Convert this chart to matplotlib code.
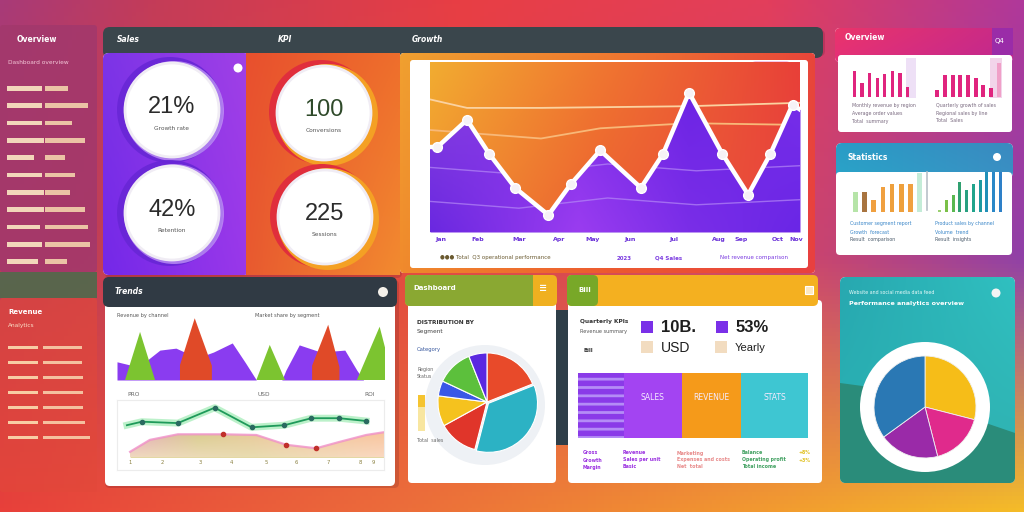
import numpy as np
import matplotlib
matplotlib.use("Agg")
import matplotlib.pyplot as plt
from matplotlib.patches import FancyBboxPatch, Circle, Rectangle, Polygon
from matplotlib.colors import to_rgb

W, H = 1024, 512

# ---------------- data ----------------
kpi_values = ["21%", "100", "42%", "225"]
kpi_labels = ["Growth rate", "Conversions", "Retention", "Sessions"]

trend_x = [0, 1, 5, 8, 11.5, 16, 19, 23, 28.5, 31.5, 35, 39.5, 43, 46, 49, 50]
trend_y = [50, 50, 66, 46, 26, 10, 28, 48, 26, 46, 82, 46, 22, 46, 75, 72]
target_a_x = [0, 5, 15, 35, 50]
target_a_y = [78, 73, 73, 74, 76]
target_b_x = [0, 15, 23, 35, 50]
target_b_y = [60, 55, 61, 64, 63]
trend_months = ["Jan", "Feb", "Mar", "Apr", "May", "Jun", "Jul", "Aug", "Sep", "Oct", "Nov"]
trend_month_x = [1.5, 6.5, 12, 17.5, 22, 27, 33, 39, 42, 47, 49.5]

pink_left = [27, 14, 25, 20, 24, 27, 25, 10]
pink_right = [7, 23, 23, 23, 23, 20, 12, 9, 35]
stat_left = [20, 20, 12, 25, 28, 28, 28, 39]
stat_right = [2, 12, 17, 30, 22, 28, 32, 40, 40, 40]

side_top_a = [35, 35, 35, 37, 27, 35, 37, 37, 33, 35, 31]
side_top_b = [23, 43, 27, 40, 20, 30, 25, 40, 43, 45, 22]
side_bot_a = [30, 30, 30, 30, 30, 30, 30]
side_bot_b = [39, 39, 40, 40, 40, 42, 47]

peak_purple1 = ([0, 8, 16, 22, 30, 36, 43, 48, 52], [28, 20, 46, 49, 34, 43, 57, 26, 0])
peak_purple2 = ([61.5, 63, 68, 76, 85, 89.5, 92], [0, 15, 54, 43, 46, 15, 0])
peak_green = [([3, 8.6, 14.2], [0, 74, 0]), ([52, 57, 62.7], [0, 54, 0]), ([89.5, 98, 100], [0, 82, 50])]
peak_red = [([23.5, 29, 35.4], [23, 95, 22]), ([72.8, 78.8, 83], [22, 85, 20])]

line_green_x = [3.7, 9.3, 22.8, 36.6, 50.4, 62.7, 72.8, 83.2, 93.3]
line_green_y = [64, 69, 67, 89, 61, 64, 74, 74, 70]
band_x = [4.9, 12.3, 22.8, 39.6, 52.2, 63.4, 74.6, 83.2, 93.3, 100]
band_y = [26, 43, 51, 51, 50, 36, 31, 40, 50, 54]

pie_mid_values = [19, 35, 13, 10, 5, 12, 6]
pie_mid_colors = ["#e84a2a", "#2cb2c4", "#e0352a", "#f5c21e", "#3a58e6", "#5cc03c", "#5a28e0"]

stack_values = [20, 25, 26, 29]
stack_labels = ["", "SALES", "REVENUE", "STATS"]
stack_colors = ["#8a3ae8", "#a344f2", "#f59a1a", "#3ec6d2"]

pie_right_values = [29, 17, 19, 35]
pie_right_colors = ["#f6bd18", "#e02a8c", "#9a2aa8", "#2a78b4"]

# ---------------- helpers ----------------
def row(stops, n):
    xs = np.linspace(0, 1, n)
    pos = [p for p, _ in stops]
    cols = np.array([to_rgb(c) for _, c in stops])
    return np.stack([np.interp(xs, pos, cols[:, k]) for k in range(3)], axis=-1)


def grid(rows, h=128, w=256):
    R = np.array([row(s, w) for _, s in rows])
    ys = np.linspace(0, 1, h)
    yp = [p for p, _ in rows]
    out = np.empty((h, w, 3))
    for k in range(3):
        for j in range(w):
            out[:, j, k] = np.interp(ys, yp, R[:, j, k])
    return out


fig = plt.figure(figsize=(W / 100, H / 100), dpi=100)
bg = fig.add_axes([0, 0, 1, 1])
bg.set_axis_off()

bg_img = grid([
    (0.0, [(0, "#a83a78"), (0.15, "#c43c58"), (0.45, "#e83e44"), (0.75, "#e23e5c"), (1, "#b0389a")]),
    (0.5, [(0, "#b83c5a"), (0.4, "#e24a40"), (0.8, "#c84470"), (1, "#9040a8")]),
    (1.0, [(0, "#e8403a"), (0.4, "#ec6e3a"), (0.75, "#f29a30"), (1, "#f5bc28")]),
])
bg.imshow(bg_img, extent=(0, W, H, 0), aspect="auto", zorder=0)


def card(x0, y0, x1, y1, color="white", r=5, z=2, alpha=1.0, grad=None):
    p = FancyBboxPatch((x0, y0), x1 - x0, y1 - y0,
                       boxstyle=f"round,pad=0,rounding_size={r}",
                       fc=color, ec="none", zorder=z, alpha=alpha)
    bg.add_patch(p)
    if grad is not None:
        im = bg.imshow(grad, extent=(x0, x1, y1, y0), aspect="auto", zorder=z)
        im.set_clip_path(p)
    return p


def shadow(x0, y0, x1, y1, r=5):
    bg.add_patch(FancyBboxPatch((x0 + 2, y0 + 3), x1 - x0, y1 - y0,
                                boxstyle=f"round,pad=0,rounding_size={r}",
                                fc="#501020", ec="none", alpha=0.18, zorder=1.5))


def sub(x0, y0, x1, y1):
    ax = fig.add_axes([x0 / W, 1 - y1 / H, (x1 - x0) / W, (y1 - y0) / H])
    ax.set_axis_off()
    ax.patch.set_alpha(0)
    return ax


def txt(x, y, s, size=5, color="white", **kw):
    bg.text(x, y, s, fontsize=size, color=color, va="center", zorder=10, **kw)

# ---------------- left sidebar ----------------
card(0, 25, 97, 272, color="#a2386c", r=3, alpha=0.85)
card(0, 272, 97, 298, color="#4e6a4c", r=0, alpha=0.9)
card(0, 298, 97, 492, color="#e2483a", r=3, alpha=0.6)
txt(17, 40, "Overview", 5.5, weight="bold")
txt(8, 62, "Dashboard overview", 4.2, "#f4c8d8")
txt(8, 312, "Revenue", 5, weight="bold")
txt(8, 325, "Analytics", 4.2, "#fbe0c8")

ax_side1 = sub(5, 78, 95, 272)
ys1 = np.arange(len(side_top_a))
ax_side1.barh(ys1, side_top_a, left=2, height=0.28, color="#fbe8c4", alpha=0.9)
ax_side1.barh(ys1, side_top_b, left=40, height=0.28, color="#f8dcb0", alpha=0.85)
ax_side1.set_xlim(0, 90)
ax_side1.set_ylim(len(side_top_a) - 0.4, -0.6)

ax_side2 = sub(5, 340, 95, 445)
ys2 = np.arange(len(side_bot_a))
ax_side2.barh(ys2, side_bot_a, left=3, height=0.22, color="#fde6b8", alpha=0.85)
ax_side2.barh(ys2, side_bot_b, left=38, height=0.22, color="#fbe0b8", alpha=0.8)
ax_side2.set_xlim(0, 90)
ax_side2.set_ylim(len(side_bot_a) - 0.5, -0.5)

# ---------------- top dark header ----------------
shadow(103, 27, 823, 53)
card(103, 27, 823, 58, color="#3a464c", r=7, z=2)
txt(117, 40, "Sales", 5.5, style="italic", weight="bold")
txt(278, 40, "KPI", 5.5, style="italic", weight="bold")
txt(412, 40, "Growth", 5.5, style="italic", weight="bold")

# ---------------- KPI panel ----------------
purple_grad = grid([(0, [(0, "#7c34e6"), (1, "#a040e6")]), (1, [(0, "#7428e8"), (1, "#9a38ea")])], 64, 64)
orange_grad = grid([(0, [(0, "#e8502e"), (1, "#ee6e2c")]), (1, [(0, "#e85a30"), (1, "#f28a30")])], 64, 64)
shadow(103, 53, 400, 275)
card(103, 53, 250, 275, r=6, z=3, grad=purple_grad)
bg.add_patch(Rectangle((246, 53), 154, 222, fc="#ec6a2e", ec="none", zorder=3))
im = bg.imshow(orange_grad, extent=(246, 400, 275, 53), aspect="auto", zorder=3)
bg.add_patch(Circle((238, 68), 4.5, fc="white", ec="none", zorder=5))

kpi_centers = [(172, 110), (324, 113), (172, 213), (325, 217)]
for i, ((cx, cy), val, lab) in enumerate(zip(kpi_centers, kpi_values, kpi_labels)):
    if i % 2 == 0:
        bg.add_patch(Circle((cx - 2, cy), 53, fc="#6826d6", ec="none", alpha=0.9, zorder=4))
        bg.add_patch(Circle((cx + 2, cy + 1), 50, fc="#c8a0f8", ec="none", alpha=0.7, zorder=4))
    else:
        bg.add_patch(Circle((cx - 3, cy - 1), 52, fc="#e02e3c", ec="none", zorder=4))
        bg.add_patch(Circle((cx + 3, cy + 2), 51, fc="#f4a024", ec="none", zorder=4))
    bg.add_patch(Circle((cx, cy), 47, fc="white", ec="none", zorder=5))
    bg.add_patch(Circle((cx, cy), 47, fc="none", ec="#f0ecf4", lw=2, zorder=5))
    col = "#2b2b2b" if i != 1 else "#2f4a2a"
    bg.text(cx, cy - 3, val, fontsize=17, color=col, ha="center", va="center",
            family="Liberation Sans", zorder=10)
    bg.text(cx, cy + 18, lab, fontsize=4.2, color="#555555", ha="center", va="center", zorder=10)

# ---------------- top-middle trend chart ----------------
chart_grad = grid([(0, [(0, "#f0a030"), (0.5, "#f07a30"), (1, "#e8463a")]),
                   (1, [(0, "#f08a2c"), (0.5, "#ec5a30"), (1, "#e84040")])], 64, 128)
card(400, 53, 815, 273, r=4, z=2, grad=chart_grad)
card(410, 60, 808, 268, color="white", r=3, z=3)
bg.add_patch(FancyBboxPatch((752, 61), 38, 8, boxstyle="round,pad=0,rounding_size=4",
                            fc="#f4c8ea", ec="none", zorder=4))

ax_t = sub(430, 62, 800, 232)
ax_t.set_xlim(0, 50)
ax_t.set_ylim(0, 100)
inner_grad = grid([(0, [(0, "#f2ac30"), (0.45, "#f07830"), (1, "#e84038")]),
                   (1, [(0, "#f09030"), (0.45, "#ec6030"), (1, "#e84440")])], 64, 128)
ax_t.imshow(inner_grad, extent=(0, 50, 0, 100), aspect="auto", zorder=0)
ax_t.plot(target_a_x, target_a_y, color="#fbd2a0", lw=1.3, zorder=1)
ax_t.plot(target_b_x, target_b_y, color="#f8b878", lw=1.3, zorder=1)
area = ax_t.fill_between(trend_x, trend_y, 0, color="#7a2ee6", zorder=2, lw=0)
area_grad = grid([(0, [(0, "#8c44e0"), (0.4, "#7a2ee8"), (0.7, "#6a22e4"), (1, "#7a30ea")]),
                  (1, [(0, "#6a28e0"), (0.4, "#9a3cf0"), (0.7, "#7a2ee8"), (1, "#6a26e6")])], 64, 128)
ima = ax_t.imshow(area_grad, extent=(0, 50, 0, 100), aspect="auto", zorder=2)
ima.set_clip_path(area.get_paths()[0], transform=ax_t.transData)
for yy in (38, 18):
    ln, = ax_t.plot([0, 12, 24, 36, 50], [yy, yy - 4, yy + 2, yy - 2, yy + 1],
                    color="#b488f6", lw=1.0, alpha=0.7, zorder=3)
    ln.set_clip_path(area.get_paths()[0], transform=ax_t.transData)
ax_t.plot(trend_x, trend_y, color="white", lw=3.2, zorder=4, solid_joinstyle="round")
ax_t.plot(trend_x[1:-1], trend_y[1:-1], "o", ms=7, mfc="#f6f2f6", mec="white", zorder=5)
ax_t.set_ylim(0, 100)
ax_t.set_xlim(0, 50)

ax_tl = sub(430, 232, 800, 246)
ax_tl.set_xlim(0, 50)
ax_tl.set_ylim(0, 1)
for mx, m in zip(trend_month_x, trend_months):
    ax_tl.text(mx, 0.45, m, fontsize=4.5, color="#6a30d8", ha="center", va="center", weight="bold")
txt(440, 258, "●●● Total  Q3 operational performance", 4, "#6a5a30")
txt(617, 258, "2023", 4, "#7a3ae0", weight="bold")
txt(655, 258, "Q4 Sales", 4, "#7a3ae0", weight="bold")
txt(720, 258, "Net revenue comparison", 4, "#7a3ae0")

# ---------------- top-right pink panel ----------------
pink_grad = grid([(0, [(0, "#ea346a"), (1, "#c82a88")]), (1, [(0, "#e43078"), (1, "#c02890")])], 32, 64)
card(835, 28, 1013, 62, r=5, z=2, grad=pink_grad)
bg.add_patch(Rectangle((992, 28), 21, 27, fc="#9a2ca8", ec="none", zorder=3))
txt(995, 41, "Q4", 5, "white")
txt(845, 37, "Overview", 5.5, weight="bold")
card(838, 55, 1012, 132, color="white", r=3, z=3)
bg.add_patch(Rectangle((906, 58), 10, 40, fc="#eee0f6", ec="none", zorder=3.5))
bg.add_patch(Rectangle((990, 58), 12, 40, fc="#f2d4ea", ec="none", zorder=3.5))
ax_p1 = sub(850, 62, 912, 97)
ax_p1.bar(range(len(pink_left)), pink_left, width=0.45, color="#e0247e")
ax_p1.set_ylim(0, 36)
ax_p2 = sub(932, 62, 1004, 97)
cols_p2 = ["#e0247e"] * (len(pink_right) - 1) + ["#f0a0c8"]
ax_p2.bar(range(len(pink_right)), pink_right, width=0.5, color=cols_p2)
ax_p2.set_ylim(0, 36)
for k, s in enumerate(["Monthly revenue by region", "Average order values", "Total  summary"]):
    txt(852, 105 + k * 8, s, 3.4, "#7a6a80")
for k, s in enumerate(["Quarterly growth of sales", "Regional sales by line", "Total  Sales"]):
    txt(936, 105 + k * 8, s, 3.4, "#7a6a80")

# ---------------- mid-right statistics panel ----------------
blue_grad = grid([(0, [(0, "#2a9cc6"), (1, "#3a8ac0")]), (1, [(0, "#2aa4c8"), (1, "#3a90c4")])], 32, 64)
card(836, 143, 1013, 178, r=6, z=2, grad=blue_grad)
txt(848, 157, "Statistics", 5.5, weight="bold")
bg.add_patch(Circle((997, 157), 4, fc="white", ec="none", zorder=4))
card(836, 172, 1012, 255, color="white", r=4, z=3)
ax_s1 = sub(850, 170, 925, 212)
cols_s1 = ["#b6e4a8", "#a87440", "#f0a040", "#f0a040", "#eea03c", "#eea03c", "#f0a040", "#c4ecd8"]
ax_s1.bar(range(len(stat_left)), stat_left, width=0.55, color=cols_s1)
ax_s1.set_ylim(0, 42)
ax_s2 = sub(935, 170, 1005, 212)
cols_s2 = ["#9ad070", "#7ac048", "#5ab850", "#30a070", "#28a080", "#20a48c", "#1e9aa0", "#2090b8", "#2a88c8", "#2e80c8"]
ax_s2.bar(range(len(stat_right)), stat_right, width=0.45, color=cols_s2)
ax_s2.set_ylim(0, 42)
bg.plot([927, 927], [172, 210], color="#b8c0c8", lw=1.2, zorder=4)
for k, s in enumerate(["Customer segment report", "Growth  forecast", "Result  comparison"]):
    txt(850, 224 + k * 8, s, 3.4, "#3a86c8" if k < 2 else "#4a5a6a")
for k, s in enumerate(["Product sales by channel", "Volume  trend", "Result  insights"]):
    txt(935, 224 + k * 8, s, 3.4, "#3a86c8" if k < 2 else "#4a5a6a")

# ---------------- bottom-right teal pie panel ----------------
teal_grad = grid([(0, [(0, "#28a8b0"), (1, "#30c0c0")]), (1, [(0, "#2ab4b4"), (1, "#30b0b0")])], 64, 64)
tp = card(840, 277, 1015, 483, r=6, z=2, grad=teal_grad)
wave = Polygon([(840, 383), (870, 387), (900, 396), (940, 408), (977, 420), (1015, 433),
                (1015, 483), (840, 483)], closed=True, fc="#2a8c7a", ec="none", zorder=2.5)
bg.add_patch(wave)
wave.set_clip_path(tp)
txt(849, 292, "Website and social media data feed", 3.4, "#e8fbfa")
txt(849, 303, "Performance analytics overview", 4.6, "white", weight="bold")
bg.add_patch(Circle((996, 293), 4.5, fc="#f4f4f4", ec="none", zorder=4))
bg.add_patch(Circle((925, 407), 65, fc="white", ec="none", zorder=3))
ax_pr = sub(873, 355, 977, 459)
ax_pr.pie(pie_right_values, colors=pie_right_colors, startangle=90, counterclock=False,
          radius=1, wedgeprops=dict(lw=0.6, ec="#f0f0f0"))
ax_pr.set_xlim(-1.02, 1.02)
ax_pr.set_ylim(-1.02, 1.02)

# ---------------- bottom-left trends panel ----------------
shadow(103, 277, 397, 485)
card(105, 300, 395, 486, color="white", r=5, z=2)
card(103, 277, 397, 307, color="#303a44", r=6, z=3)
txt(115, 292, "Trends", 5.5, weight="bold", style="italic")
bg.add_patch(Circle((383, 292), 5, fc="#f4f0ea", ec="none", zorder=4))
txt(117, 315, "Revenue by channel", 3.6, "#555555")
txt(255, 315, "Market share by segment", 3.6, "#555555")
ax_a = sub(117, 315, 385, 380)
ax_a.set_xlim(0, 100)
ax_a.set_ylim(0, 100)
ax_a.fill_between(peak_purple1[0], peak_purple1[1], 0, color="#8a3cf0", lw=0)
ax_a.fill_between(peak_purple2[0], peak_purple2[1], 0, color="#8a3cf0", lw=0)
for xs, ys in peak_red:
    ax_a.fill(xs + [xs[-1], xs[0]], ys + [0, 0], color="#e04a28", lw=0, zorder=2)
for xs, ys in peak_green:
    ax_a.fill(xs + [xs[-1], xs[0]], ys + [0, 0], color="#7cc430", lw=0, zorder=3)
ax_a.set_xlim(0, 100)
ax_a.set_ylim(0, 100)
txt(127, 394, "PRO", 4.2, "#666666")
txt(258, 394, "USD", 4.2, "#666666")
txt(364, 394, "ROI", 4.2, "#666666")

ax_l = sub(117, 400, 384, 470)
ax_l.set_axis_on()
ax_l.set_xticks([])
ax_l.set_yticks([])
for sp in ax_l.spines.values():
    sp.set_color("#ececec")
ax_l.set_xlim(0, 100)
ax_l.set_ylim(0, 100)
band = ax_l.fill_between(band_x, band_y, 18, color="#e0d49a", lw=0, zorder=1)
band_grad = grid([(0, [(0, "#e8a0c8"), (0.3, "#d8cc8c"), (0.6, "#f0c8a0"), (1, "#f8c49c")]),
                  (1, [(0, "#f0d8c0"), (0.5, "#e8dcb0"), (1, "#fad8c0")])], 32, 64)
imb = ax_l.imshow(band_grad, extent=(0, 100, 18, 55), aspect="auto", zorder=1)
imb.set_clip_path(band.get_paths()[0], transform=ax_l.transData)
ax_l.plot(band_x, band_y, color="#f090c8", lw=1.6, alpha=0.8, zorder=2)
ax_l.plot([band_x[3], band_x[5], band_x[6]], [band_y[3], band_y[5], band_y[6]], "o",
          ms=3, color="#c0302a", zorder=3)
ax_l.plot(line_green_x, line_green_y, color="#90e8a8", lw=5, alpha=0.6, zorder=3)
ax_l.plot(line_green_x, line_green_y, color="#1e9a5a", lw=1.3, zorder=4)
ax_l.plot(line_green_x[1:], line_green_y[1:], "o", ms=3, color="#2a6a60", zorder=5)
ax_l.set_xlim(0, 100)
ax_l.set_ylim(0, 100)
for k, lx in enumerate([5, 17, 31, 43, 56, 67, 79, 91, 96]):
    ax_l.text(lx, 10, str(k + 1), fontsize=3.8, color="#8a8040", ha="center", va="center")

# ---------------- bottom-middle pie panel ----------------
card(408, 300, 556, 483, color="white", r=4, z=2)
card(405, 275, 557, 306, color="#f0b020", r=5, z=3)
card(405, 275, 533, 306, color="#8aa832", r=5, z=3)
bg.add_patch(Rectangle((525, 275), 8, 31, fc="#8aa832", ec="none", zorder=3))
txt(413, 288, "Dashboard", 5, weight="bold")
txt(539, 288, "≡", 7, "white", weight="bold")
bg.add_patch(Rectangle((556, 310), 12, 135, fc="#2e3e48", ec="none", zorder=2))
txt(417, 323, "DISTRIBUTION BY", 4.2, "#333333", weight="bold")
txt(417, 332, "Segment", 4.2, "#444444")
txt(417, 349, "Category", 3.8, "#3a5aa0")
txt(417, 370, "Region", 3.4, "#666666")
txt(417, 377, "Status", 3.4, "#666666")
bg.add_patch(Rectangle((418, 395), 7, 36, fc="#f8e6a0", ec="none", zorder=3))
bg.add_patch(Rectangle((418, 395), 7, 12, fc="#f5c430", ec="none", zorder=3))
txt(417, 440, "Total  sales", 3.4, "#666666")
bg.add_patch(Circle((485, 405), 60, fc="#eef1f5", ec="none", zorder=2.5))
ax_pm = sub(435, 350, 539, 454)
ax_pm.pie(pie_mid_values, colors=pie_mid_colors, startangle=90, counterclock=False,
          radius=1, explode=[0, 0.04, 0, 0, 0, 0, 0], wedgeprops=dict(lw=0.8, ec="white"))
ax_pm.set_xlim(-1.06, 1.06)
ax_pm.set_ylim(-1.06, 1.06)

# ---------------- bottom-right stacked bar panel ----------------
card(568, 300, 822, 483, color="white", r=4, z=2)
card(567, 275, 818, 306, color="#f4b020", r=5, z=3)
card(567, 275, 598, 306, color="#78a828", r=5, z=3)
txt(578, 290, "Bill", 5, weight="bold")
bg.add_patch(Rectangle((805, 286), 8, 8, fc="#fde8c0", ec="white", lw=0.8, zorder=4))
txt(580, 322, "Quarterly KPIs", 4.2, "#333333", weight="bold")
txt(580, 332, "Revenue summary", 3.6, "#555555")
txt(583, 350, "Bill", 3.8, "#333333", weight="bold")
bg.add_patch(Rectangle((641, 321), 12, 12, fc="#7a30e8", ec="none", zorder=4))
bg.add_patch(Rectangle((716, 321), 12, 12, fc="#7a30e8", ec="none", zorder=4))
bg.add_patch(Rectangle((641, 341), 12, 12, fc="#f2dcc0", ec="none", zorder=4))
bg.add_patch(Rectangle((715, 341), 12, 12, fc="#f2dcc0", ec="none", zorder=4))
txt(661, 327, "10B.", 12, "#1e1e1e", weight="bold", family="Liberation Sans")
txt(736, 327, "53%", 12, "#1e1e1e", weight="bold", family="Liberation Sans")
txt(661, 348, "USD", 10, "#1e1e1e", family="Liberation Sans")
txt(735, 348, "Yearly", 8, "#1e1e1e", family="Liberation Sans")

plt.rcParams["hatch.linewidth"] = 2.0
ax_st = sub(578, 373, 808, 438)
left = 0
for v, lab, c, k in zip(stack_values, stack_labels, stack_colors, range(4)):
    ax_st.barh(0.5, v, left=left, height=1.0, color=c, lw=0,
               hatch="--" if k == 0 else None, edgecolor="#b48cf6" if k == 0 else c)
    if lab:
        ax_st.text(left + v / 2, 0.62, lab, fontsize=5.5, color="#f4eaff", ha="center", va="center")
    left += v
ax_st.set_xlim(0, sum(stack_values))
ax_st.set_ylim(0, 1)

legend_cols = [("#9a30e0", 583), ("#9a30e0", 623), ("#e88a8a", 677), ("#40a060", 742), ("#e0c020", 798)]
legend_txt = [["Gross", "Growth", "Margin"], ["Revenue", "Sales per unit", "Basic"],
              ["Marketing", "Expenses and costs", "Net  total"], ["Balance", "Operating profit", "Total income"],
              ["+8%", "+3%"]]
for (c, x), rows in zip(legend_cols, legend_txt):
    for k, s in enumerate(rows):
        txt(x, 453 + k * 7, s, 3.4, c, weight="bold")

bg.set_xlim(0, W)
bg.set_ylim(H, 0)
fig.savefig("out.png", dpi=100)
